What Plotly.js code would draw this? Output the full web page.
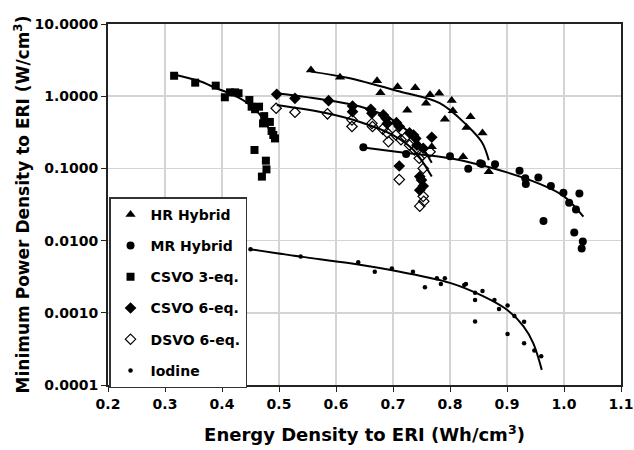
<!DOCTYPE html>
<html>
<head>
<meta charset="utf-8">
<script src="https://cdn.plot.ly/plotly-3.0.1.min.js"></script>
<style>html,body{margin:0;padding:0;background:#fff;}#chart{width:634px;height:450px;}</style>
</head>
<body>
<div id="chart"></div>
<script>
// ---- Data ----
const hrX = [0.556,0.607,0.672,0.678,0.708,0.725,0.739,0.758,0.765,0.768,0.781,0.791,0.803,0.805,0.823,0.829,0.836,0.857,0.868];
const hrY = [2.31,1.83,1.64,1.12,1.35,0.64,1.31,0.80,1.05,0.20,1.10,0.48,0.87,0.63,0.145,0.37,0.52,0.31,0.090];
const hrFitX = [0.556,0.62,0.712,0.782,0.829,0.856,0.868];
const hrFitY = [2.19,1.80,1.16,0.80,0.40,0.23,0.13];

const mrX = [0.648,0.723,0.800,0.832,0.853,0.856,0.879,0.922,0.932,0.933,0.955,0.964,0.977,0.999,1.009,1.018,1.021,1.027,1.031,1.033];
const mrY = [0.196,0.158,0.147,0.099,0.118,0.115,0.114,0.093,0.073,0.061,0.075,0.0187,0.057,0.046,0.0335,0.0129,0.027,0.045,0.0078,0.0097];
const mrFitX = [0.648,0.72,0.80,0.85,0.90,0.955,1.0,1.034];
const mrFitY = [0.195,0.165,0.138,0.113,0.088,0.062,0.041,0.0214];

const c3X = [0.316,0.353,0.389,0.405,0.414,0.423,0.429,0.448,0.452,0.457,0.458,0.465,0.470,0.472,0.474,0.477,0.478,0.484,0.487,0.490,0.493];
const c3Y = [1.92,1.54,1.40,0.966,1.13,1.13,1.10,0.885,0.716,0.18,0.66,0.716,0.077,0.42,0.53,0.128,0.097,0.44,0.33,0.29,0.26];
const c3FitX = [0.316,0.36,0.391,0.42,0.449,0.472,0.493];
const c3FitY = [2.00,1.62,1.28,1.04,0.755,0.49,0.234];

const c6X = [0.496,0.528,0.587,0.629,0.629,0.661,0.663,0.683,0.688,0.690,0.706,0.711,0.711,0.729,0.736,0.740,0.742,0.747,0.747,0.750,0.753,0.753,0.768];
const c6Y = [1.06,0.935,0.867,0.73,0.61,0.66,0.58,0.55,0.49,0.42,0.43,0.38,0.108,0.31,0.29,0.26,0.21,0.077,0.050,0.069,0.19,0.057,0.27];
const c6FitX = [0.496,0.584,0.642,0.683,0.712,0.742,0.768];
const c6FitY = [1.10,0.885,0.72,0.55,0.40,0.247,0.12];

const dsX = [0.495,0.528,0.585,0.628,0.628,0.663,0.664,0.682,0.690,0.692,0.705,0.711,0.714,0.722,0.729,0.738,0.746,0.747,0.751,0.753,0.753,0.754,0.765];
const dsY = [0.68,0.60,0.57,0.47,0.38,0.42,0.38,0.35,0.31,0.235,0.29,0.070,0.25,0.27,0.21,0.18,0.138,0.030,0.15,0.10,0.041,0.035,0.17];
const dsFitX = [0.496,0.584,0.642,0.700,0.736,0.768];
const dsFitY = [0.755,0.58,0.44,0.29,0.18,0.077];

const ioX = [0.450,0.538,0.639,0.668,0.698,0.735,0.756,0.777,0.784,0.791,0.825,0.828,0.844,0.844,0.844,0.857,0.878,0.886,0.901,0.901,0.913,0.930,0.930,0.948,0.960];
const ioY = [0.0076,0.0060,0.0050,0.0037,0.0041,0.0037,0.00226,0.0030,0.0025,0.0030,0.00243,0.0025,0.0019,0.0015,0.00076,0.0020,0.0015,0.00113,0.00126,0.00051,0.00090,0.00075,0.00038,0.00030,0.00025];
const ioFitX = [0.450,0.538,0.625,0.712,0.80,0.858,0.90,0.929,0.946,0.961];
const ioFitY = [0.0076,0.0060,0.00485,0.0037,0.0026,0.0017,0.0011,0.00065,0.00038,0.000162];

const seriesNames = ['HR Hybrid','MR Hybrid','CSVO 3-eq.','CSVO 6-eq.','DSVO 6-eq.','Iodine'];
const xTickVals = [0.2,0.3,0.4,0.5,0.6,0.7,0.8,0.9,1.0,1.1];
const xTickText = ['0.2','0.3','0.4','0.5','0.6','0.7','0.8','0.9','1.0','1.1'];
const yTickVals = [10,1,0.1,0.01,0.001,0.0001];
const yTickText = ['10.0000','1.0000','0.1000','0.0100','0.0010','0.0001'];

// ---- Traces ----
const FONT = 'DejaVu Sans, Arial, sans-serif';
function pts(x, y, name, symbol, size, idx) {
  return {x, y, name, type:'scatter', mode:'markers', legendgroup:'g'+idx,
    marker:{symbol, size, color:'#000', line:{color:'#000', width: symbol.indexOf('open')>=0 ? 1.2 : 0}}};
}
function fit(x, y) {
  return {x, y, type:'scatter', mode:'lines', showlegend:false, hoverinfo:'skip',
    line:{color:'#000', width:2, shape:'spline', smoothing:1}};
}
const data = [
  fit(hrFitX, hrFitY), fit(mrFitX, mrFitY), fit(c3FitX, c3FitY),
  fit(c6FitX, c6FitY), fit(dsFitX, dsFitY), fit(ioFitX, ioFitY),
  pts(hrX, hrY, seriesNames[0], 'triangle-up', 9, 0),
  pts(mrX, mrY, seriesNames[1], 'circle', 8, 1),
  pts(c3X, c3Y, seriesNames[2], 'square', 8, 2),
  pts(c6X, c6Y, seriesNames[3], 'diamond', 9, 3),
  pts(dsX, dsY, seriesNames[4], 'diamond-open', 8, 4),
  pts(ioX, ioY, seriesNames[5], 'circle', 4.5, 5)
];

const layout = {
  width:634, height:450,
  margin:{l:108, r:13, t:24, b:65},
  paper_bgcolor:'#fff', plot_bgcolor:'#fff',
  font:{family:FONT, color:'#000', size:14, weight:'bold'},
  showlegend:true,
  legend:{x:0.002, y:0.52, xanchor:'left', yanchor:'top',
    bgcolor:'#fff', bordercolor:'#333', borderwidth:1.5,
    font:{family:FONT, size:14, color:'#000', weight:'bold'},
    tracegroupgap:10, traceorder:'grouped', itemwidth:30},
  xaxis:{range:[0.2,1.1], tickvals:xTickVals, ticktext:xTickText,
    showgrid:true, gridcolor:'#d4d4d4', gridwidth:1.5,
    showline:true, linecolor:'#222', linewidth:2, mirror:true,
    ticks:'outside', ticklen:5, tickcolor:'#222', zeroline:false,
    tickfont:{family:FONT, size:14, color:'#000', weight:'bold'},
    title:{text:'Energy Density to ERI (Wh/cm<sup>3</sup>)', standoff:18,
      font:{family:FONT, size:18, color:'#000', weight:'bold'}}},
  yaxis:{type:'log', range:[-4,1], tickvals:yTickVals, ticktext:yTickText,
    showgrid:true, gridcolor:'#d4d4d4', gridwidth:1.5,
    showline:true, linecolor:'#222', linewidth:2, mirror:true,
    ticks:'outside', ticklen:5, tickcolor:'#222', zeroline:false,
    tickfont:{family:FONT, size:14, color:'#000', weight:'bold'},
    title:{text:'Minimum Power Density to ERI (W/cm<sup>3</sup>)', standoff:0,
      font:{family:FONT, size:17, color:'#000', weight:'bold'}}}
};

Plotly.newPlot('chart', data, layout, {staticPlot:true, displayModeBar:false});
</script>
</body>
</html>
